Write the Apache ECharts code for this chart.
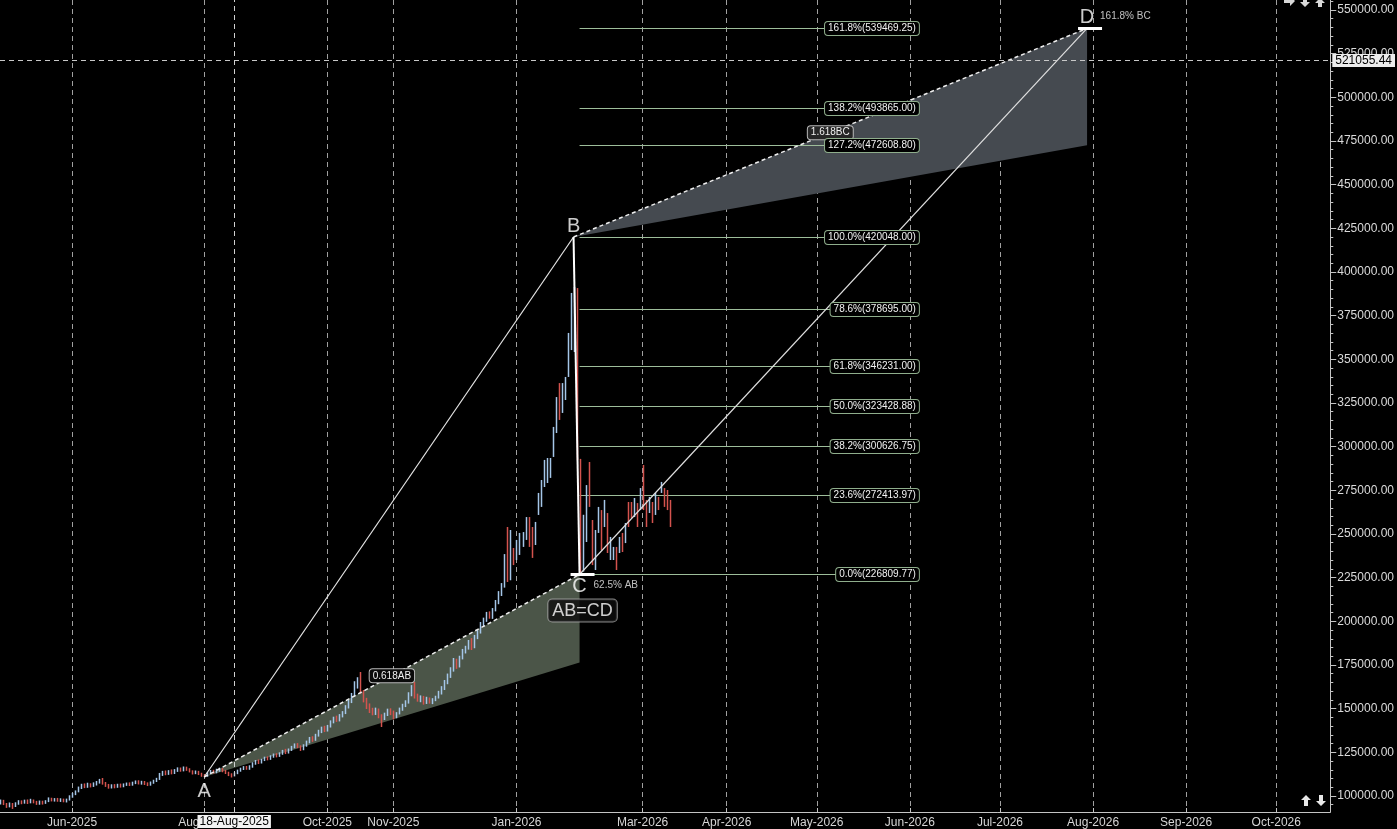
<!DOCTYPE html>
<html>
<head>
<meta charset="utf-8">
<script src="https://cdn.jsdelivr.net/npm/echarts@6.0.0/dist/echarts.min.js"></script>
<style>
html,body{margin:0;padding:0;background:#000;overflow:hidden;}
#chart{width:1397px;height:829px;}
</style>
</head>
<body>
<div id="chart"></div>
<script>
// ================= DATA =================
// trading-day calendar (weekdays minus exchange holidays), then calendar days for the projection area
const firstTradingDay = '2025-04-29';
const lastTradingDay  = '2026-03-13';
const lastAxisDay     = '2026-10-19';
const holidays = ['2025-08-15', '2025-08-27', '2025-10-02', '2025-11-05', '2025-12-25'];

// x-axis tick labels
const tickDates  = ['2025-06-02','2025-08-01','2025-10-01','2025-11-03','2026-01-01','2026-03-02','2026-04-01','2026-05-01','2026-06-01','2026-07-01','2026-08-01','2026-09-01','2026-10-01'];
const tickLabels = ['Jun-2025','Aug-2025','Oct-2025','Nov-2025','Jan-2026','Mar-2026','Apr-2026','May-2026','Jun-2026','Jul-2026','Aug-2026','Sep-2026','Oct-2026'];

// y-axis tick labels
const yTickValues = [100000,125000,150000,175000,200000,225000,250000,275000,300000,325000,350000,375000,400000,425000,450000,475000,500000,525000,550000];

// daily bars [open, close, low, high], one per trading day from firstTradingDay
const bars = [
[96000,97200,95200,98000],[97200,95500,94800,97800],[95500,94200,93200,96000],[94200,95600,93500,96300],[95600,94000,92600,96000],
[94000,95800,93700,96400],[95800,96900,95000,97600],[96900,96000,95300,97500],[96000,97200,95600,97900],[97200,96300,95400,98000],
[96300,97500,95800,98400],[97500,96600,95800,98000],[96600,95500,94900,97200],[95500,96800,95000,97400],[96800,95900,95100,97300],
[95900,97000,95500,97600],[97000,98400,96500,99200],[98400,97500,96900,99000],[97500,98200,96800,98800],[98200,97300,96700,98900],
[97300,97900,96600,98700],[97900,97000,96400,98500],[97000,97800,96300,98500],[97800,99400,97400,100400],
[99400,101200,99000,101800],[101200,102600,100500,103200],[102600,104800,102100,105400],[104800,106200,104000,107000],[106200,105300,104500,107200],
[105300,106600,104700,107600],[106600,105700,104900,107300],[105700,106900,105200,107800],[106900,107800,106000,108600],[107800,108900,107100,109800],
[108900,107000,106500,110300],[107000,106100,105200,108000],[106100,105000,104200,106900],[105000,106000,104300,106700],[106000,105200,104400,106800],
[105200,106300,104700,107000],[106300,105600,104800,107100],[105600,106400,105000,107200],[106400,107100,105800,107700],[107100,106500,105700,107800],
[106500,107400,105900,108200],
[107400,108300,106800,108900],[108300,107200,106600,109000],[107200,108000,106500,108700],[108000,107100,106300,108600],[107100,106400,105700,107800],
[106400,107600,105900,108300],[107600,108500,107000,109300],[108500,109700,108000,110400],[109700,112500,109200,113200],[112500,113600,111500,114400],
[113600,112700,111900,114600],[112700,114000,112100,114800],[114000,113100,112400,115200],[113100,114500,112600,115400],[114500,115600,113800,116400],
[115600,114700,113900,116300],[114700,116000,114100,116900],[116000,115200,114400,116800],[115200,114000,113500,115900],[114000,113200,112300,114700],
[113200,114000,112500,114600],[114000,112600,112000,114400],[112600,111700,111000,113300],
[111700,111400,110867,112400],
[111400,113000,111000,113600],[113000,114200,112500,114900],[114200,113400,112800,115000],[113400,114700,113000,115600],[114700,115400,113900,116200],
[115400,114300,113600,116000],[114300,113200,112600,115000],[113200,112200,111400,113900],[112200,111500,110600,113000],[111500,113000,111200,113500],
[113000,114400,112500,115100],[114400,115500,113900,116200],[115500,116400,114900,117100],[116400,115600,115000,117200],[115600,116800,115000,117600],
[116800,118500,116200,119300],[118500,119800,117900,120600],[119800,119000,118300,120900],[119000,120600,118600,121300],
[120600,121800,120000,122500],[121800,121100,120400,122700],[121100,122500,120700,123300],[122500,123600,121900,124300],[123600,122800,122100,124500],
[122800,124200,122400,125000],[124200,125600,123600,126400],[125600,124800,124000,127000],[124800,126300,124300,127200],[126300,127900,125800,128700],
[127900,129200,127300,130100],[129200,128100,127400,130300],[128100,126800,125800,129000],[126800,128700,126200,129600],[128700,130800,128200,131700],
[130800,132900,130200,133800],[132900,132000,131000,134200],[132000,134500,131600,135600],[134500,136800,134000,137900],[136800,138600,136000,139700],
[138600,137400,136600,140200],
[137400,139800,136900,140700],[139800,142300,139200,143300],[142300,144500,141600,145400],[144500,143100,142400,146000],[143100,145800,142700,146900],
[145800,147500,145000,148600],[147500,150800,146900,152000],[150800,153900,150100,155100],[153900,157600,153200,159000],[157600,162600,156800,165700],
[162600,166400,161500,168000],[166400,159800,158600,171000],[159800,155200,153600,160700],[155200,151300,149800,156200],[151300,149000,147500,153000],
[149000,147400,146200,150500],[147400,149500,146400,150600],[149500,145800,144500,150100],[145800,144100,139500,146800],[144100,146600,143500,147700],
[146600,148900,145800,150000],[148900,147600,146300,150200],
[147600,145000,143800,148900],[145000,147200,144500,148000],[147200,149500,146700,150600],[149500,151800,148800,152800],[151800,153600,150900,154800],
[153600,157800,152900,159400],[157800,161700,157100,163500],[161700,157400,155800,165300],[157400,155000,154000,158600],[155000,156600,153700,157600],
[156600,154300,152300,157300],[154300,155800,152700,156800],[155800,153800,152900,156400],[153800,155200,152600,156000],[155200,156500,154300,157400],
[156500,158800,155800,160200],[158800,161500,158100,162900],[161500,164800,160700,166400],[164800,168500,164000,170100],[168500,172000,167600,173700],
[172000,177500,171200,179000],[177500,174200,172800,178600],[174200,179000,173600,180300],[179000,182800,178200,184200],[182800,184500,181600,186000],
[184500,188000,183800,189300],[188000,185000,183600,190400],[185000,190800,184600,192200],[190800,193600,189800,195000],[193600,197800,193000,199600],
[197800,200800,196900,202100],[200800,204000,199700,205400],[204000,202200,201500,205700],[202200,206200,201400,207600],[206200,210500,205700,212200],
[210500,215500,209800,217300],[215500,220000,214500,221900],[220000,236500,219300,238500],[236500,224000,222500,254000],[224000,243000,223500,252300],
[243000,234800,232200,242000],
[238000,244000,235100,246600],[242000,248000,238000,250600],[244000,250000,242600,251100],[249000,257000,246600,259700],[258000,246000,242600,259700],
[250000,239000,236300,254000],[245000,254000,243700,256900],[262000,271000,260900,273500],[268000,278000,265500,280900],[279000,290000,276900,292400],
[282000,291000,279200,293500],[284000,292000,282100,293500],[296000,309000,294100,311300],[310000,326000,307800,328400],[334000,318000,315300,336400],
[321000,334000,319300,336400],[328000,338000,326700,339900],[342000,362000,339900,365100],[357000,385000,355300,388000],[356000,389000,354200,391400],
[385000,296000,292400,390800],[292000,262000,226810,293000],
[232000,255000,228500,261000],[255000,272000,245400,278000],[285000,267000,265500,291200],[257000,236000,232200,258000],[233000,249000,229400,252300],
[252000,262000,250600,265500],[261000,244000,240800,263700],[256000,266000,254000,269500],[260000,242000,239100,262000],[238000,246000,235100,248300],
[237000,241000,235100,242600],[241000,232000,229400,242600],[240000,247000,239100,248300],[249000,241000,239700,250600],[246000,255000,244800,256300],
[266000,256000,254000,268300],[267000,261000,259200,268300],[261000,269000,259700,270600],[266000,256000,254000,267700],[265000,275000,263700,276300],
[281000,266000,263700,289500],[268000,256000,254000,269500],[263000,270000,262000,271200],[267000,258000,256300,268300],[262000,272000,260900,273500],
[270000,265000,263700,271200],[275000,279000,273500,279800],[275000,267000,265500,276300],[274000,266000,263700,275200],[268285,259435,254000,269500]
];

// ABCD pattern points [date, value]
const pointA = ['2025-08-01', 110867];
const pointB = ['2026-01-28', 420048];
const pointC = ['2026-01-30', 226809.77];
const pointD = ['2026-07-30', 539469.25];
const abZoneLow = 176500;      // lower edge of AB=CD zone at C
const bcZoneLow = 472608.80;   // lower edge of BC projection zone at D
const retracementLabel = '62.5% AB';
const extensionLabel = '161.8% BC';

// Fibonacci levels drawn from C
const fibLevels = ['161.8%','138.2%','127.2%','100.0%','78.6%','61.8%','50.0%','38.2%','23.6%','0.0%'];
const fibValues = [539469.25, 493865.00, 472608.80, 420048.00, 378695.00, 346231.00, 323428.88, 300626.75, 272413.97, 226809.77];
const fibEndDate = '2026-06-04';

// crosshair and price tags
const crossDate = '2025-08-18';
const crossDateLabel = '18-Aug-2025';
const crossValue = 521055.44;
const priceTagPrev = 268285.00;
const priceTagLast = 259435.00;

// ================= BUILD =================
function buildCategories() {
  const out = [];
  const lt = Date.parse(lastTradingDay + 'T00:00:00Z');
  const le = Date.parse(lastAxisDay + 'T00:00:00Z');
  for (let t = Date.parse(firstTradingDay + 'T00:00:00Z'); t <= le; t += 86400000) {
    const d = new Date(t);
    const s = d.toISOString().slice(0, 10);
    const wd = d.getUTCDay();
    if (t > lt || (wd !== 0 && wd !== 6 && holidays.indexOf(s) < 0)) out.push(s);
  }
  return out;
}
const cats = buildCategories();
const idx = d => cats.indexOf(d);
const tickSet = {};
tickDates.forEach((d, k) => { tickSet[d] = tickLabels[k]; });
const isTick = (i, v) => tickSet[v] !== undefined;

const UP = '#a4c6e8', DOWN = '#d4534e';
const FONT = 'Liberation Sans';
const iA = idx(pointA[0]), iB = idx(pointB[0]), iC = idx(pointC[0]), iD = idx(pointD[0]);

const minorTicks = [];
for (let v = 95000; v <= 555000; v += 5000) minorTicks.push(v);

const chart = echarts.init(document.getElementById('chart'), null, { renderer: 'canvas' });

const fibData = fibValues.map((v, k) => [iC, idx(fibEndDate), v, k]);

const option = {
  backgroundColor: '#000',
  animation: false,
  grid: { left: 0, right: 66, top: 0, bottom: 17, containLabel: false },
  xAxis: {
    type: 'category',
    data: cats,
    boundaryGap: false,
    axisLine: { show: true, lineStyle: { color: '#c4c4c4', width: 1 } },
    axisTick: { show: true, interval: isTick, length: 4, inside: true, lineStyle: { color: '#c4c4c4' } },
    axisLabel: { interval: isTick, formatter: v => tickSet[v] || '', color: '#d6d6d6', fontSize: 12, fontFamily: FONT, margin: 5 },
    splitLine: { show: true, interval: isTick, lineStyle: { color: '#a0a0a0', width: 1, type: [5, 4] } }
  },
  yAxis: [{
    type: 'value', position: 'right', min: 90840, max: 555710, scale: true,
    axisLine: { show: true, lineStyle: { color: '#c4c4c4' } },
    axisTick: { show: true, customValues: yTickValues, length: 6, lineStyle: { color: '#c4c4c4' } },
    axisLabel: { show: true, customValues: yTickValues, formatter: v => v.toFixed(2), color: '#dadada', fontSize: 12, fontFamily: FONT, margin: 7 },
    splitLine: { show: false }
  }, {
    type: 'value', position: 'right', min: 90840, max: 555710, scale: true,
    axisLine: { show: false },
    axisTick: { show: true, customValues: minorTicks, length: 3, lineStyle: { color: '#c4c4c4' } },
    axisLabel: { show: false },
    splitLine: { show: false }
  }],
  series: [
    // projection zones
    {
      type: 'custom', name: 'zones', z: 1, silent: true,
      data: [[iA, pointA[1], iC, pointC[1], iC, abZoneLow], [iB, pointB[1], iD, pointD[1], iD, bcZoneLow]],
      encode: { x: 0, y: 1 },
      renderItem: (params, api) => {
        const p1 = api.coord([api.value(0), api.value(1)]);
        const p2 = api.coord([api.value(2), api.value(3)]);
        const p3 = api.coord([api.value(4), api.value(5)]);
        return { type: 'polygon', shape: { points: [p1, p2, p3] },
          style: { fill: params.dataIndex === 0 ? '#4b5548' : '#454a50' } };
      }
    },
    // Fibonacci level lines
    {
      type: 'custom', name: 'fibLines', z: 2, silent: true,
      data: fibData,
      encode: { x: 0, y: 2 },
      renderItem: (params, api) => {
        const s = api.coord([api.value(0), api.value(2)]);
        const e = api.coord([api.value(1), api.value(2)]);
        const y = Math.round(s[1]) + 0.5;
        return { type: 'line', shape: { x1: s[0], y1: y, x2: e[0], y2: y }, style: { stroke: '#9dbd9a', lineWidth: 1 } };
      }
    },
    // price bars
    {
      type: 'custom', name: 'bars', z: 3, silent: true,
      data: bars.map((b, i) => [i, b[0], b[1], b[2], b[3]]),
      encode: { x: 0, y: [3, 4] },
      renderItem: (params, api) => {
        const lo = api.coord([api.value(0), api.value(3)]);
        const hi = api.coord([api.value(0), api.value(4)]);
        const up = api.value(2) >= api.value(1);
        const x = Math.round(lo[0]) + 0.5;
        return { type: 'line', shape: { x1: x, y1: lo[1], x2: x, y2: hi[1] },
          style: { stroke: up ? UP : DOWN, lineWidth: 1.5 } };
      },
      markLine: {
        silent: true, symbol: ['none', 'none'], animation: false,
        data: [
          { yAxis: crossValue, lineStyle: { color: '#c8c8c8', type: [5, 4], width: 1 },
            label: { show: true, position: 'end', distance: 2, formatter: crossValue.toFixed(2), color: '#000', backgroundColor: '#ececec', padding: [1, 3, 0, 3], fontSize: 12, fontFamily: FONT } },
          { yAxis: priceTagPrev, lineStyle: { opacity: 0 },
            label: { show: true, position: 'end', distance: 2, formatter: priceTagPrev.toFixed(2), color: '#1c1c66', backgroundColor: '#c4c4f2', padding: [1, 3, 0, 3], fontSize: 12, fontFamily: FONT } },
          { yAxis: priceTagLast, lineStyle: { opacity: 0 },
            label: { show: true, position: 'end', distance: 2, formatter: priceTagLast.toFixed(2), color: '#000', backgroundColor: '#f3f0dc', padding: [1, 3, 0, 3], fontSize: 12, fontFamily: FONT } },
          { xAxis: crossDate, lineStyle: { color: '#d0d0d0', type: [5, 4], width: 1 },
            label: { show: true, position: 'start', distance: 3, formatter: crossDateLabel, color: '#000', backgroundColor: '#f2f2f2', padding: [1, 2, 0, 2], fontSize: 12, fontFamily: FONT } }
        ]
      }
    },
    // pattern legs
    { type: 'line', z: 4, silent: true, symbol: 'none', data: [[iA, pointA[1]], [iB, pointB[1]]], lineStyle: { color: '#e6e6e6', width: 1.2 } },
    { type: 'line', z: 4, silent: true, symbol: 'none', data: [[iB, pointB[1]], [iC, pointC[1]]], lineStyle: { color: '#ffffff', width: 2 } },
    { type: 'line', z: 4, silent: true, symbol: 'none', data: [[iC, pointC[1]], [iD, pointD[1]]], lineStyle: { color: '#e0e0e0', width: 1.2 } },
    { type: 'line', z: 4, silent: true, symbol: 'none', data: [[iA, pointA[1]], [iC, pointC[1]]], lineStyle: { color: '#eeeeee', width: 1.5, type: [4, 3] } },
    { type: 'line', z: 4, silent: true, symbol: 'none', data: [[iB, pointB[1]], [iD, pointD[1]]], lineStyle: { color: '#eeeeee', width: 1.5, type: [4, 3] } },
    // Fibonacci level labels (above the pattern legs)
    {
      type: 'custom', name: 'fibLabels', z: 8, silent: true,
      data: fibData,
      encode: { x: 1, y: 2 },
      renderItem: (params, api) => {
        const e = api.coord([api.value(1), api.value(2)]);
        const y = Math.round(e[1]) + 0.5;
        const k = api.value(3);
        return { type: 'text', x: e[0], y: y, style: {
          text: fibLevels[k] + '(' + fibValues[k].toFixed(2) + ')', fill: '#f2f2f2',
          font: '10px "' + FONT + '"', align: 'right', verticalAlign: 'middle',
          backgroundColor: '#000', borderColor: '#8fae8c', borderWidth: 1, borderRadius: 3, padding: [2, 3, 1, 3] } };
      }
    },
    // C / D markers
    {
      type: 'custom', name: 'markers', z: 5, silent: true,
      data: [[iC, pointC[1]], [iD, pointD[1]]],
      encode: { x: 0, y: 1 },
      renderItem: (params, api) => {
        const p = api.coord([api.value(0), api.value(1)]);
        return { type: 'rect', shape: { x: p[0] - 9, y: Math.round(p[1]) - 1, width: 24, height: 3 }, style: { fill: '#ffffff' } };
      }
    },
    // mid-leg labels
    {
      type: 'custom', name: 'midLabels', z: 6, silent: true,
      data: [[iA, pointA[1], iC, pointC[1], 0], [iB, pointB[1], iD, pointD[1], 1]],
      encode: { x: 0, y: 1 },
      renderItem: (params, api) => {
        const p1 = api.coord([api.value(0), api.value(1)]);
        const p2 = api.coord([api.value(2), api.value(3)]);
        const txt = api.value(4) === 0 ? '0.618AB' : '1.618BC';
        return { type: 'text', x: (p1[0] + p2[0]) / 2, y: (p1[1] + p2[1]) / 2, style: {
          text: txt, fill: '#f0f0f0', font: '10px "' + FONT + '"', align: 'center', verticalAlign: 'middle',
          backgroundColor: api.value(4) === 0 ? '#0a0a0a' : '#262626', borderColor: '#b8b8b8', borderWidth: 1, borderRadius: 3, padding: [2, 3, 1, 3] } };
      }
    },
    // point letters and notes
    {
      type: 'scatter', z: 7, silent: true, symbolSize: 0,
      label: { show: true, color: '#ffffff', fontSize: 20, fontFamily: FONT },
      data: [
        { value: [iA, pointA[1]], label: { formatter: 'A', position: 'bottom', distance: 4 } },
        { value: [iB, pointB[1]], label: { formatter: 'B', position: 'top', distance: 0 } },
        { value: [iC, pointC[1]], label: { formatter: 'C', position: 'bottom', distance: 2 } },
        { value: [iD, pointD[1]], label: { formatter: 'D', position: 'top', distance: 1 } },
        { value: [iC, pointC[1]], label: { formatter: retracementLabel, position: [14, 6], fontSize: 10, color: '#eeeeee' } },
        { value: [iD, pointD[1]], label: { formatter: extensionLabel, position: [13, -17], fontSize: 10, color: '#eeeeee' } },
        { value: [iC, pointC[1]], label: { formatter: 'AB=CD', position: [3, 25], align: 'center', verticalAlign: 'top', fontSize: 18, color: '#ffffff',
            backgroundColor: '#0c0c0c', borderColor: '#a8a8a8', borderWidth: 1, borderRadius: 4, padding: [3, 4, 1, 4] } }
      ]
    }
  ],
  graphic: [
    // scroll arrows bottom-right
    { type: 'polygon', shape: { points: [[1306, 795], [1311, 800], [1308, 800], [1308, 806], [1304, 806], [1304, 800], [1301, 800]] }, style: { fill: '#e8e8e8' } },
    { type: 'polygon', shape: { points: [[1321, 806], [1326, 801], [1323, 801], [1323, 795], [1319, 795], [1319, 801], [1316, 801]] }, style: { fill: '#e8e8e8' } },
    // toolbar arrows top-right (cut off)
    { type: 'polygon', shape: { points: [[1284, -2], [1290, -2], [1290, -4], [1295, 1], [1290, 6], [1290, 3], [1284, 3]] }, style: { fill: '#d8d8d8' } },
    { type: 'polygon', shape: { points: [[1305, 7], [1310, 2], [1307, 2], [1307, -3], [1303, -3], [1303, 2], [1300, 2]] }, style: { fill: '#d8d8d8' } },
    { type: 'polygon', shape: { points: [[1320, -2], [1325, 3], [1322, 3], [1322, 7], [1318, 7], [1318, 3], [1315, 3]] }, style: { fill: '#d8d8d8' } }
  ]
};
chart.setOption(option);
</script>
</body>
</html>
